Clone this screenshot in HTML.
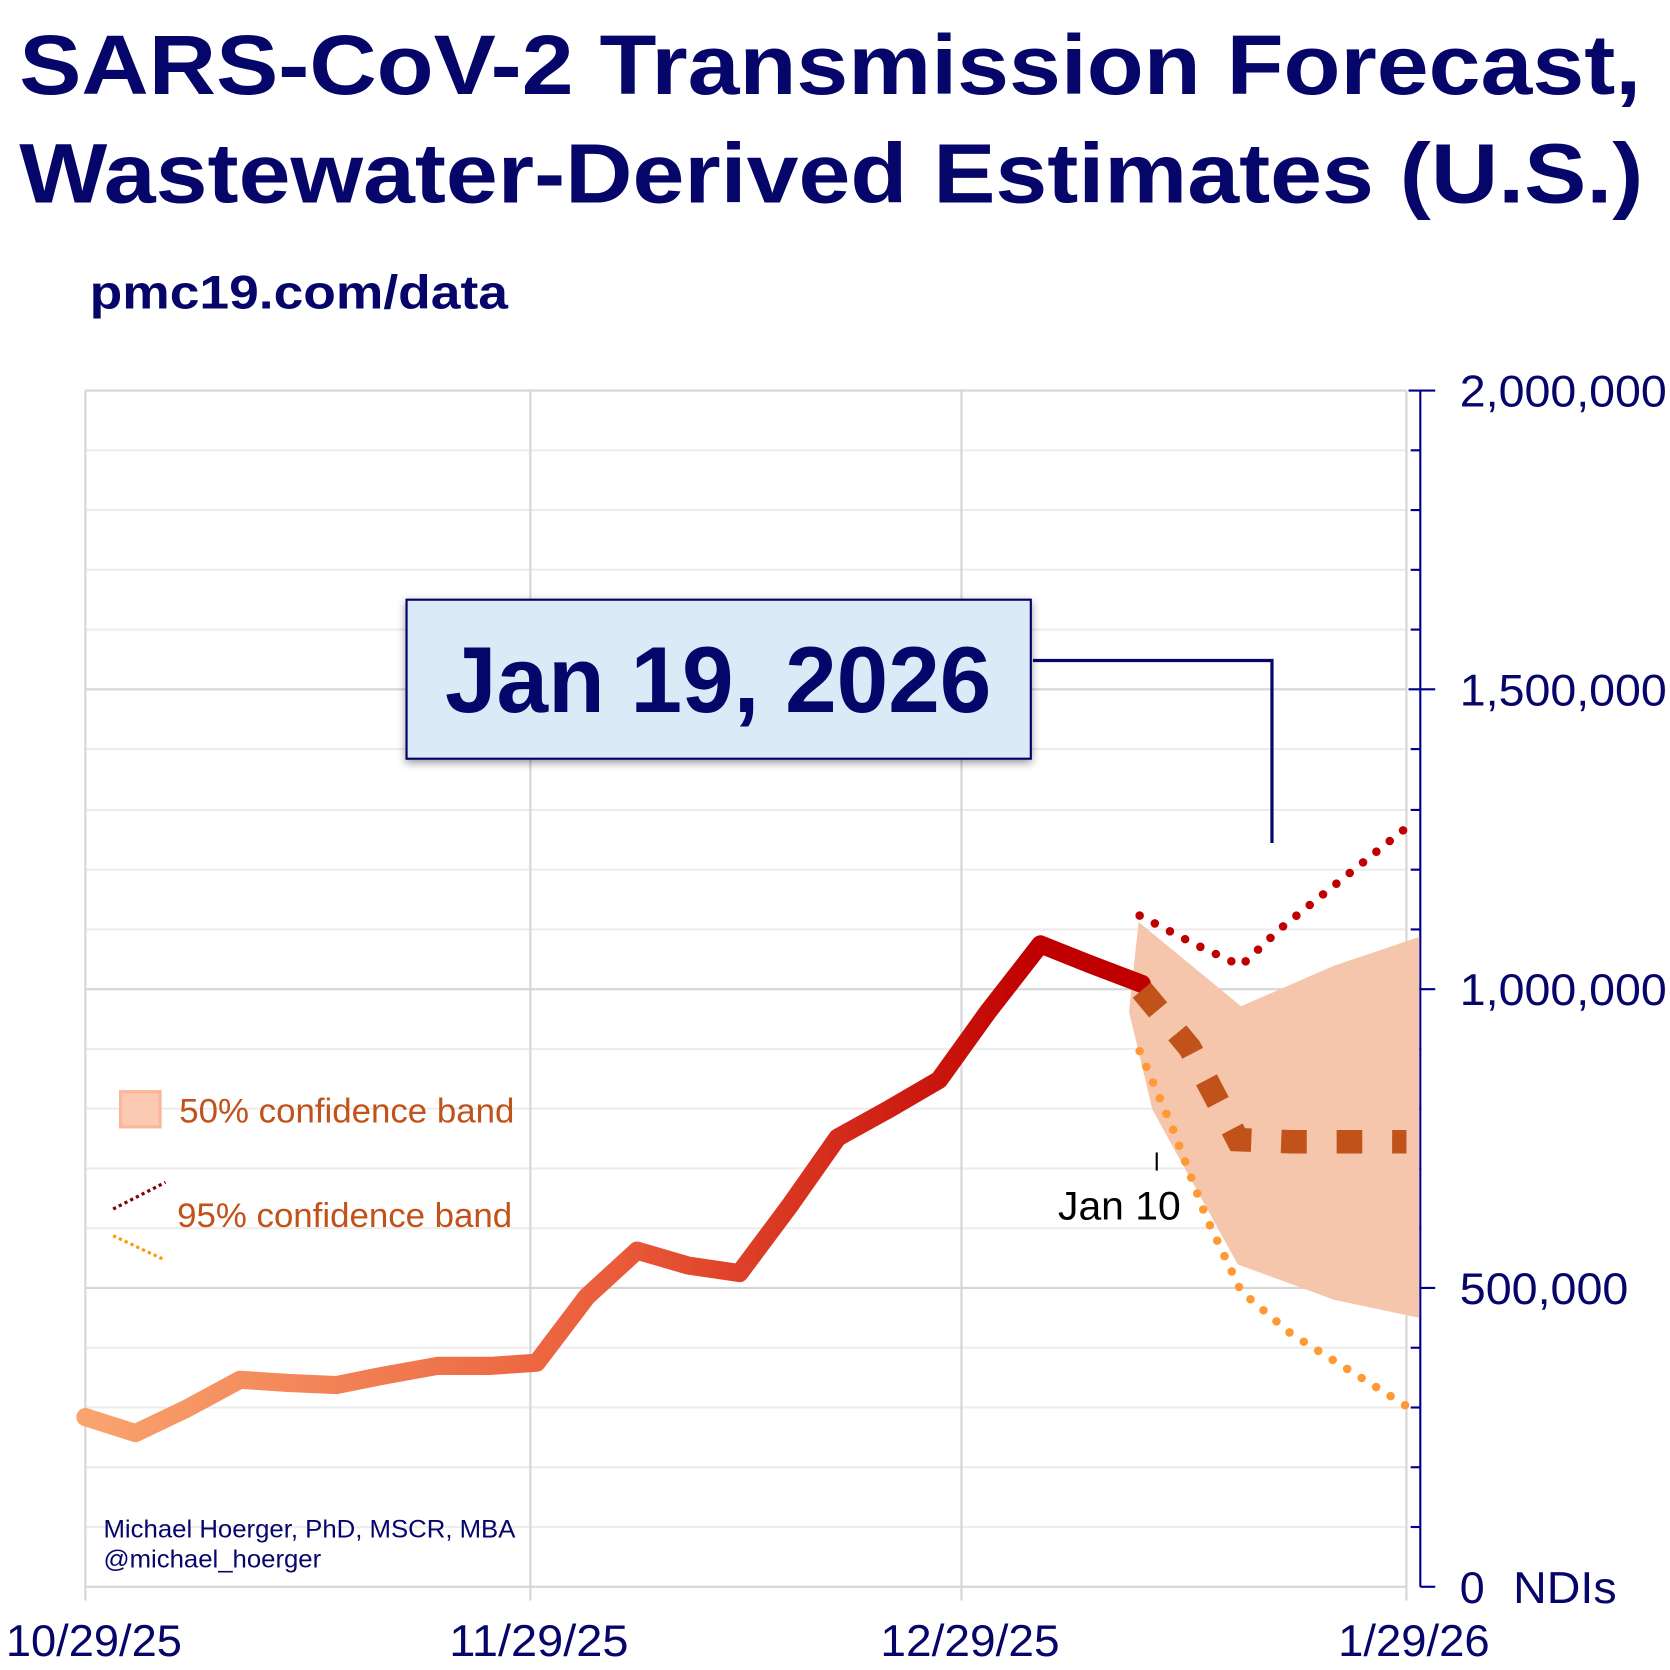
<!DOCTYPE html>
<html><head><meta charset="utf-8"><style>
html,body{margin:0;padding:0;background:#fff;width:1670px;height:1670px;overflow:hidden}
svg{display:block}
text{font-family:"Liberation Sans",Arial,sans-serif}
</style></head><body>
<svg width="1670" height="1670" viewBox="0 0 1565 1565" xmlns="http://www.w3.org/2000/svg">
<defs>
<linearGradient id="g" gradientUnits="userSpaceOnUse" x1="80" y1="0" x2="1070" y2="0">
<stop offset="0" stop-color="#f9a46e"/><stop offset="0.5" stop-color="#ea5c3a"/><stop offset="0.9" stop-color="#c00000"/><stop offset="1" stop-color="#c00000"/>
</linearGradient>
<filter id="sh" x="-10%" y="-10%" width="120%" height="130%"><feDropShadow dx="0" dy="3" stdDeviation="4" flood-color="#000" flood-opacity="0.4"/></filter>
</defs>
<text x="18" y="88" font-size="79" font-weight="bold" fill="#06066a" textLength="1520" lengthAdjust="spacingAndGlyphs">SARS-CoV-2 Transmission Forecast,</text>
<text x="18" y="190" font-size="79" font-weight="bold" fill="#06066a" textLength="1522" lengthAdjust="spacingAndGlyphs">Wastewater-Derived Estimates (U.S.)</text>
<text x="84" y="289" font-size="44" font-weight="bold" fill="#06066a" textLength="392" lengthAdjust="spacingAndGlyphs">pmc19.com/data</text>
<g stroke="#ededed" stroke-width="2">
<line x1="80" x2="1318" y1="422" y2="422"/><line x1="80" x2="1318" y1="478" y2="478"/><line x1="80" x2="1318" y1="534" y2="534"/><line x1="80" x2="1318" y1="590" y2="590"/>
<line x1="80" x2="1318" y1="702" y2="702"/><line x1="80" x2="1318" y1="759" y2="759"/><line x1="80" x2="1318" y1="815" y2="815"/><line x1="80" x2="1318" y1="871" y2="871"/>
<line x1="80" x2="1318" y1="983" y2="983"/><line x1="80" x2="1318" y1="1039" y2="1039"/><line x1="80" x2="1318" y1="1095" y2="1095"/><line x1="80" x2="1318" y1="1151" y2="1151"/>
<line x1="80" x2="1318" y1="1263" y2="1263"/><line x1="80" x2="1318" y1="1319" y2="1319"/><line x1="80" x2="1318" y1="1375" y2="1375"/><line x1="80" x2="1318" y1="1431" y2="1431"/>
</g>
<g stroke="#d6d6d6" stroke-width="2">
<line x1="80" x2="1318" y1="366" y2="366"/><line x1="80" x2="1318" y1="646" y2="646"/><line x1="80" x2="1318" y1="927" y2="927"/><line x1="80" x2="1318" y1="1207" y2="1207"/><line x1="80" x2="1318" y1="1487" y2="1487"/>
<line x1="80" x2="80" y1="366" y2="1500"/><line x1="497" x2="497" y1="366" y2="1500"/><line x1="901" x2="901" y1="366" y2="1500"/><line x1="1318" x2="1318" y1="366" y2="1500"/>
</g>
<g stroke="#00008b" stroke-width="2">
<line x1="1331" x2="1331" y1="366" y2="1487"/>
<line x1="1320" x2="1345" y1="366" y2="366"/><line x1="1320" x2="1345" y1="646" y2="646"/><line x1="1320" x2="1345" y1="927" y2="927"/><line x1="1320" x2="1345" y1="1207" y2="1207"/><line x1="1331" x2="1345" y1="1487" y2="1487"/>
<line x1="1322" x2="1331" y1="422" y2="422"/><line x1="1322" x2="1331" y1="478" y2="478"/><line x1="1322" x2="1331" y1="534" y2="534"/><line x1="1322" x2="1331" y1="590" y2="590"/>
<line x1="1322" x2="1331" y1="702" y2="702"/><line x1="1322" x2="1331" y1="759" y2="759"/><line x1="1322" x2="1331" y1="815" y2="815"/><line x1="1322" x2="1331" y1="871" y2="871"/>
<line x1="1322" x2="1331" y1="983" y2="983"/><line x1="1322" x2="1331" y1="1039" y2="1039"/><line x1="1322" x2="1331" y1="1095" y2="1095"/><line x1="1322" x2="1331" y1="1151" y2="1151"/>
<line x1="1322" x2="1331" y1="1263" y2="1263"/><line x1="1322" x2="1331" y1="1319" y2="1319"/><line x1="1322" x2="1331" y1="1375" y2="1375"/><line x1="1322" x2="1331" y1="1431" y2="1431"/>
</g>
<g font-size="42" fill="#06066a">
<text x="1368" y="381" textLength="194" lengthAdjust="spacingAndGlyphs">2,000,000</text>
<text x="1368" y="661" textLength="194" lengthAdjust="spacingAndGlyphs">1,500,000</text>
<text x="1368" y="942" textLength="194" lengthAdjust="spacingAndGlyphs">1,000,000</text>
<text x="1368" y="1222" textLength="158" lengthAdjust="spacingAndGlyphs">500,000</text>
<text x="1368" y="1502">0</text><text x="1418" y="1502" textLength="97" lengthAdjust="spacingAndGlyphs">NDIs</text>
<g text-anchor="middle"><text x="88" y="1552" textLength="165" lengthAdjust="spacingAndGlyphs">10/29/25</text><text x="505" y="1552" textLength="168" lengthAdjust="spacingAndGlyphs">11/29/25</text><text x="909" y="1552" textLength="168" lengthAdjust="spacingAndGlyphs">12/29/25</text><text x="1325" y="1552" textLength="142" lengthAdjust="spacingAndGlyphs">1/29/26</text></g>
</g>
<polygon points="1067,864 1163,943 1250,905 1330,878 1330,1235 1250,1218 1160,1185 1080,1040 1058,948" fill="#f5c6ab"/>
<polyline points="1068,858 1120,885 1163,905 1200,870 1325,770" fill="none" stroke="#c00000" stroke-width="8" stroke-linecap="round" stroke-dasharray="0 16"/>
<polyline points="1068,985 1100,1060 1130,1140 1163,1210 1210,1250 1325,1322" fill="none" stroke="#ff9933" stroke-width="8" stroke-linecap="round" stroke-dasharray="0 16"/>
<polyline points="80,1328 127,1343 175,1320 225,1293 270,1296 315,1298 360,1289 410,1280 460,1280 503,1277 550,1215 597,1172 645,1186 693,1193 740,1130 785,1066 832,1040 880,1012 926,948 975,885 1020,903 1070,922" fill="none" stroke="url(#g)" stroke-width="17" stroke-linejoin="round" stroke-linecap="round"/>
<polyline points="1070,928 1115,982 1160,1068 1210,1070 1318,1070" fill="none" stroke="#c0521a" stroke-width="22" stroke-dasharray="24 28"/>
<line x1="1084" x2="1084" y1="1080" y2="1097" stroke="#000" stroke-width="2"/>
<text x="1049" y="1143" font-size="37" fill="#000" text-anchor="middle" textLength="115" lengthAdjust="spacingAndGlyphs">Jan 10</text>
<rect x="113" y="1023" width="37" height="33" fill="#fcc9b3" stroke="#fbb79c" stroke-width="3"/>
<text x="168" y="1052" font-size="32" fill="#c0521a" textLength="314" lengthAdjust="spacingAndGlyphs">50% confidence band</text>
<line x1="106" y1="1133" x2="155" y2="1108" stroke="#800000" stroke-width="3" stroke-dasharray="3 3"/>
<line x1="106" y1="1158" x2="155" y2="1181" stroke="#ff9900" stroke-width="3" stroke-dasharray="3 3"/>
<text x="166" y="1150" font-size="32" fill="#c0521a" textLength="314" lengthAdjust="spacingAndGlyphs">95% confidence band</text>
<text x="97" y="1441" font-size="23" fill="#06066a" textLength="386" lengthAdjust="spacingAndGlyphs">Michael Hoerger, PhD, MSCR, MBA</text>
<text x="97" y="1469" font-size="23" fill="#06066a" textLength="204" lengthAdjust="spacingAndGlyphs">@michael_hoerger</text>
<polyline points="968,619 1192,619 1192,790" fill="none" stroke="#06066a" stroke-width="3"/>
<rect x="381" y="562" width="585" height="149" fill="#dce9f6" stroke="#06066a" stroke-width="2" filter="url(#sh)"/>
<text x="673" y="667" font-size="88" font-weight="bold" fill="#06066a" text-anchor="middle" textLength="512" lengthAdjust="spacingAndGlyphs">Jan 19, 2026</text>
</svg>
</body></html>
